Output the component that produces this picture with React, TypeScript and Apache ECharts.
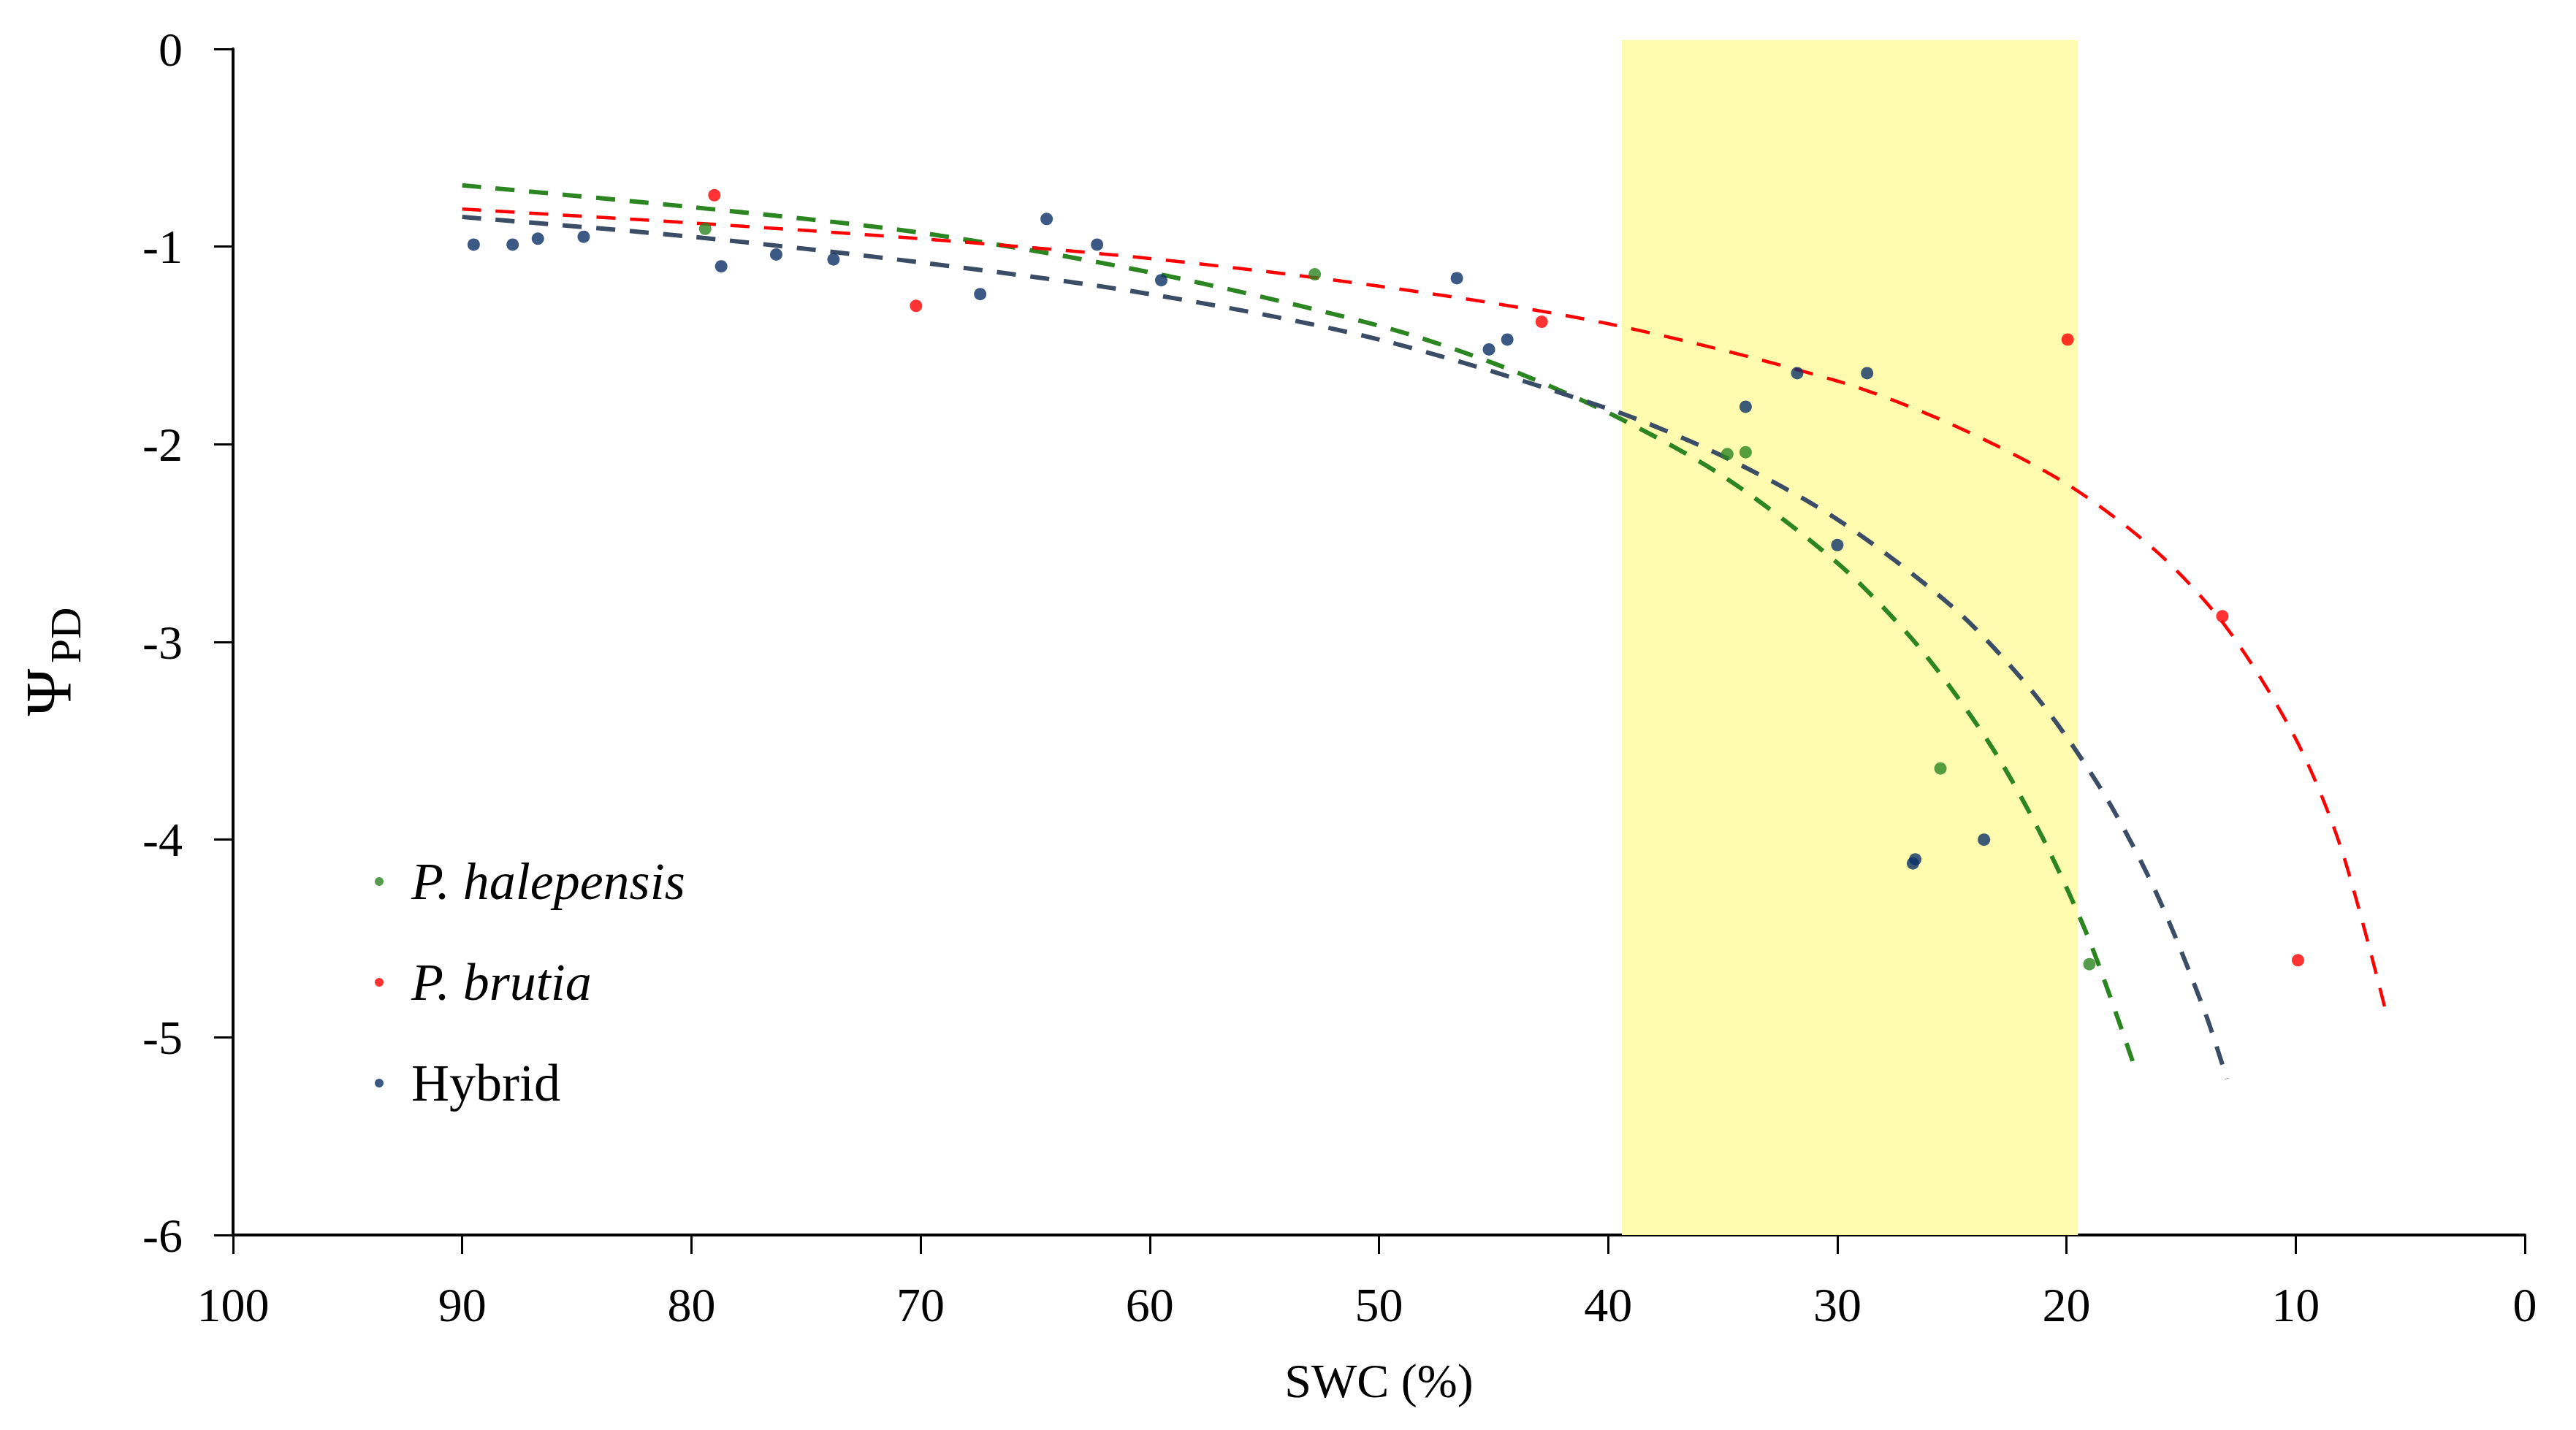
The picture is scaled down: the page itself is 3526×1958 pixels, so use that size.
import React, { useEffect, useRef } from "react";
import * as echarts from "echarts";

// ---- data ----
const HALEPENSIS_POINTS: [number, number][] = [
  [79.4, -0.91], [52.8, -1.14], [34.8, -2.05], [34.0, -2.04], [25.5, -3.64], [19.0, -4.63],
];
const BRUTIA_POINTS: [number, number][] = [
  [79.0, -0.74], [70.2, -1.30], [42.9, -1.38], [19.95, -1.47], [13.2, -2.87], [9.9, -4.61],
];
const HYBRID_POINTS: [number, number][] = [
  [89.5, -0.99], [87.8, -0.99], [86.7, -0.96], [84.7, -0.95], [78.7, -1.10], [76.3, -1.04],
  [73.8, -1.065], [67.4, -1.24], [64.5, -0.86], [62.3, -0.99], [59.5, -1.17], [46.6, -1.16],
  [45.2, -1.52], [44.4, -1.47], [34.0, -1.81], [31.75, -1.64], [28.7, -1.64], [30.0, -2.51],
  [26.7, -4.12], [26.6, -4.10], [23.6, -4.00],
];

const HALEPENSIS_FIT_X = [90, 80, 70, 60, 50, 45, 40, 35, 30, 27, 25, 23, 21, 19, 17];
const HALEPENSIS_FIT_Y = [-0.69, -0.80, -0.93, -1.13, -1.40, -1.59, -1.84, -2.16, -2.60, -2.95, -3.24, -3.58, -4.00, -4.51, -5.16];
const BRUTIA_FIT_X = [90, 80, 70, 60, 50, 40, 30, 25, 20, 16, 13, 10, 8, 6];
const BRUTIA_FIT_Y = [-0.81, -0.88, -0.96, -1.06, -1.20, -1.39, -1.68, -1.90, -2.20, -2.55, -2.93, -3.49, -4.05, -4.90];
const HYBRID_FIT_X = [90, 80, 70, 60, 50, 40, 35, 30, 25, 22, 20, 18, 16, 14, 13];
const HYBRID_FIT_Y = [-0.85, -0.95, -1.08, -1.24, -1.47, -1.82, -2.06, -2.38, -2.82, -3.18, -3.48, -3.84, -4.29, -4.86, -5.21];

// shaded SWC range: [swcFrom, psiTop, swcTo, psiBottom]
const BAND = [[39.4, 0.045, 19.5, -6]];

const SERIES_NAMES = ["P. halepensis", "P. brutia", "Hybrid"];
const X_TITLE = "SWC (%)";

const FONT = '"Liberation Serif", "Times New Roman", serif';
const GREEN = "#2B8521";
const RED = "#FF0000";
const NAVY = "#0B3068";
const SLATE = "#3B4D66";

const zip = (xs: number[], ys: number[]) => xs.map((x, i) => [x, ys[i]]);

export default function App() {
  const ref = useRef<HTMLDivElement>(null);
  useEffect(() => {
    if (!ref.current) return;
    const chart = echarts.init(ref.current, undefined, { renderer: "svg" });
    const fitLine = (name: string, xs: number[], ys: number[], color: string, width: number) => ({
      type: "line",
      name,
      data: zip(xs, ys),
      smooth: 0.3,
      showSymbol: false,
      symbol: "none",
      z: 3,
      silent: true,
      lineStyle: { color, width, type: [26, 20], cap: "butt" },
    });
    const scatter = (name: string, data: [number, number][], color: string) => ({
      type: "scatter",
      name,
      data,
      symbol: "circle",
      symbolSize: 17,
      z: 5,
      itemStyle: { color },
    });
    chart.setOption({
      animation: false,
      backgroundColor: "#ffffff",
      grid: { left: 319, right: 70, top: 67, bottom: 267 },
      xAxis: {
        type: "value",
        inverse: true,
        min: 0,
        max: 100,
        interval: 10,
        name: X_TITLE,
        nameLocation: "middle",
        nameGap: 166,
        nameTextStyle: { fontFamily: FONT, fontSize: 66, color: "#000" },
        axisLine: { onZero: false, lineStyle: { color: "#000", width: 4 } },
        axisTick: { show: true, inside: false, length: 26, lineStyle: { color: "#000", width: 3 } },
        axisLabel: { fontFamily: FONT, fontSize: 66, color: "#000", margin: 62 },
        splitLine: { show: false },
      },
      yAxis: {
        type: "value",
        min: -6,
        max: 0,
        interval: 1,
        axisLine: { show: true, onZero: false, lineStyle: { color: "#000", width: 4 } },
        axisTick: { show: true, inside: false, length: 26, lineStyle: { color: "#000", width: 3 } },
        axisLabel: { fontFamily: FONT, fontSize: 66, color: "#000", margin: 69 },
        splitLine: { show: false },
      },
      legend: {
        data: SERIES_NAMES,
        orient: "vertical",
        left: 508,
        top: 1166,
        icon: "circle",
        itemWidth: 12,
        itemHeight: 12,
        itemGap: 66,
        formatter: (name: string) => (name === "Hybrid" ? `{n|${name}}` : `{i|${name}}`),
        textStyle: {
          color: "#000",
          fontFamily: FONT,
          fontSize: 72,
          padding: [0, 0, 0, 33],
          rich: {
            i: { fontFamily: FONT, fontSize: 72, fontStyle: "italic", color: "#000" },
            n: { fontFamily: FONT, fontSize: 72, color: "#000" },
          },
        },
      },
      graphic: [
        {
          type: "text",
          x: 66,
          y: 948,
          rotation: Math.PI / 2,
          style: {
            text: "Ψ",
            font: `88px ${FONT}`,
            fill: "#000",
            align: "center",
            verticalAlign: "middle",
            textAlign: "center",
            textVerticalAlign: "middle",
          },
        },
        {
          type: "text",
          x: 90,
          y: 870,
          rotation: Math.PI / 2,
          style: {
            text: "PD",
            font: `60px ${FONT}`,
            fill: "#000",
            align: "center",
            verticalAlign: "middle",
            textAlign: "center",
            textVerticalAlign: "middle",
          },
        },
      ],
      series: [
        {
          type: "custom",
          name: "band",
          data: BAND,
          z: 1,
          clip: false,
          silent: true,
          encode: { x: [0, 2], y: [1, 3] },
          renderItem: (_params: any, api: any) => {
            const a = api.coord([api.value(0), api.value(1)]);
            const b = api.coord([api.value(2), api.value(3)]);
            return {
              type: "rect",
              shape: {
                x: Math.min(a[0], b[0]),
                y: Math.min(a[1], b[1]),
                width: Math.abs(b[0] - a[0]),
                height: Math.abs(b[1] - a[1]),
              },
              style: { fill: "#FFFCAF" },
            };
          },
        },
        fitLine("halepensis fit", HALEPENSIS_FIT_X, HALEPENSIS_FIT_Y, GREEN, 6),
        fitLine("brutia fit", BRUTIA_FIT_X, BRUTIA_FIT_Y, RED, 4.5),
        fitLine("hybrid fit", HYBRID_FIT_X, HYBRID_FIT_Y, SLATE, 6),
        scatter(SERIES_NAMES[0], HALEPENSIS_POINTS, GREEN),
        scatter(SERIES_NAMES[1], BRUTIA_POINTS, RED),
        scatter(SERIES_NAMES[2], HYBRID_POINTS, NAVY),
      ],
    });
    return () => chart.dispose();
  }, []);
  return <div ref={ref} style={{ position: "absolute", left: 0, top: 0, width: 3526, height: 1958 }} />;
}
